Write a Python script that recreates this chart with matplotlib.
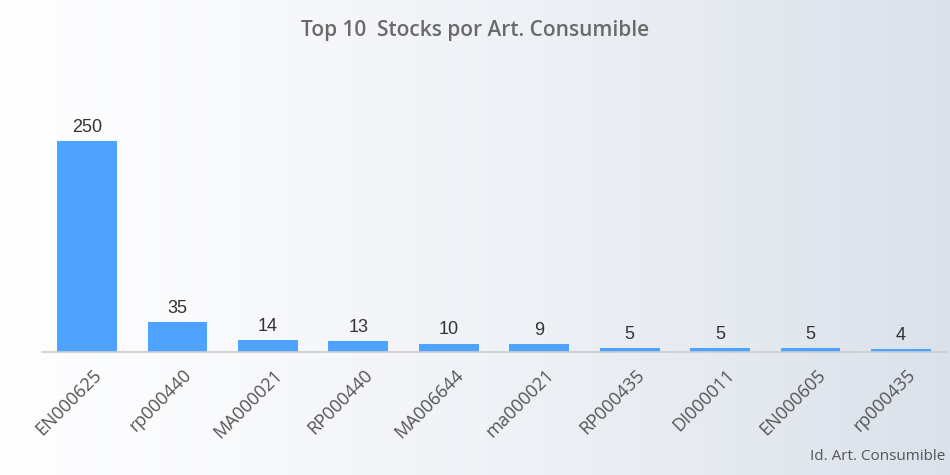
import matplotlib.pyplot as plt
import numpy as np

# data
articulos = ['EN000625', 'rp000440', 'MA000021', 'RP000440', 'MA006644',
             'ma000021', 'RP000435', 'DI000011', 'EN000605', 'rp000435']
stocks = [250, 35, 14, 13, 10, 9, 5, 5, 5, 4]

plt.rcParams['font.family'] = ['Open Sans', 'DejaVu Sans']

fig = plt.figure(figsize=(9.5, 4.75), dpi=100)

# gradient background (white on the left to light blue-grey on the right)
bg = fig.add_axes([0, 0, 1, 1], zorder=0)
grad = np.linspace(0, 1, 256).reshape(1, -1)
c0 = np.array([0.995, 0.995, 1.0])
c1 = np.array([0.86, 0.885, 0.92])
img = c0 + (c1 - c0) * grad[..., None] ** 1.3
bg.imshow(img, aspect='auto', extent=[0, 1, 0, 1])
bg.axis('off')

ax = fig.add_axes([0.044, 0.259, 0.952, 0.533], zorder=1)
ax.patch.set_alpha(0)
x = np.arange(len(articulos))
ax.bar(x, stocks, width=0.66, color='#4da3ff')
for xi, v in zip(x, stocks):
    ax.text(xi, v + 6, str(v), ha='center', va='bottom', fontsize=13,
            family='Liberation Sans', color='#333333')

ax.set_xlim(-0.5, len(articulos) - 0.5)
ax.set_ylim(0, 300)
ax.set_xticks(x + 0.06)
ax.set_xticklabels(articulos, rotation=45, ha='right', rotation_mode='anchor',
                   fontsize=13, color='#555555')
ax.tick_params(axis='x', length=0, pad=10)
ax.set_yticks([])
for s in ['top', 'right', 'left']:
    ax.spines[s].set_visible(False)
ax.spines['bottom'].set_color('#cccccc')
ax.spines['bottom'].set_linewidth(1.2)

fig.text(0.5, 0.935, 'Top 10  Stocks por Art. Consumible', ha='center', va='center',
         fontsize=15, fontweight='semibold', color='#6a6a6a')
fig.text(0.995, 0.038, 'Id. Art. Consumible', ha='right', va='center',
         fontsize=11, color='#555555')

fig.savefig('out.png', dpi=100)
